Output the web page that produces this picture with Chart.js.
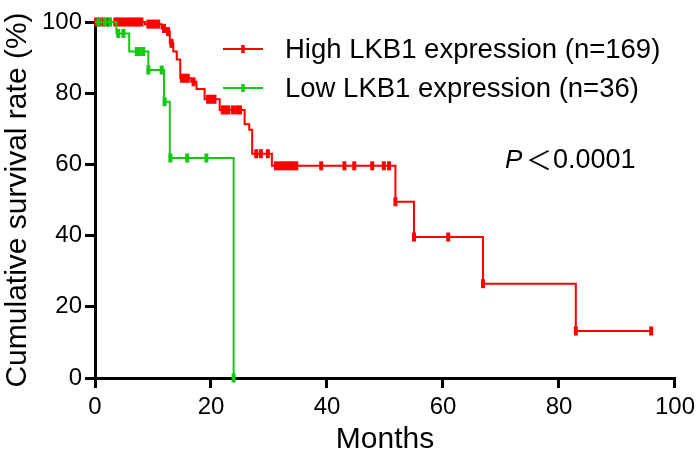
<!DOCTYPE html>
<html>
<head>
<meta charset="utf-8">
<script src="https://cdn.jsdelivr.net/npm/chart.js@4"></script>
<style>
  body { margin: 0; background: #fff; }
  canvas { display: block; }
</style>
</head>
<body>
<canvas id="km" width="700" height="458"></canvas>
<script>
// tick labels
const xTicks = [0, 20, 40, 60, 80, 100];
const yTicks = [0, 20, 40, 60, 80, 100];

// High LKB1 group: event times (months), survival after each event (%), censored times
const highLabel = 'High LKB1 expression (n=169)';
const highEventMonths   = [8.6, 11.5, 12.3, 12.9, 13.5, 14.1, 14.7, 16.6, 17.5, 18.9, 21.5, 25.8, 26.6, 27.1, 30.5, 51.8, 55.0, 66.9, 82.9];
const highEventSurvival = [99.4, 98.2, 97.3, 94.0, 91.7, 89.5, 84.2, 83.2, 81.2, 78.3, 75.3, 71.3, 69.7, 63.0, 59.6, 49.5, 39.6, 26.5, 13.2];
const highCensorMonths  = [0.2, 0.8, 1.5, 2.3, 3.5, 4.0, 4.5, 5.0, 5.5, 6.0, 6.5, 7.0, 7.5, 8.0,
                           9.2, 9.8, 10.3, 10.9, 11.9, 12.6, 13.2, 15.0, 15.5, 16.0, 17.0,
                           19.5, 20.1, 20.6, 22.0, 22.5, 23.0, 23.8, 24.5, 25.0,
                           27.8, 28.6, 29.8, 31.2, 31.8, 32.4, 33.0, 33.6, 34.1, 34.7,
                           39.0, 43.0, 44.7, 47.8, 49.8, 50.7, 51.8, 55.0, 60.9, 66.9, 82.9, 95.9];

// Low LKB1 group
const lowLabel = 'Low LKB1 expression (n=36)';
const lowEventMonths   = [3.7, 5.9, 9.2, 11.9, 12.9, 23.9];
const lowEventSurvival = [96.8, 91.7, 86.5, 77.6, 61.8, 0];
const lowCensorMonths  = [0.6, 1.7, 2.6, 4.0, 4.9, 7.2, 7.6, 8.3, 9.2, 11.5, 12.0, 13.0, 15.9, 19.2, 23.9];

const pText = '0.0001';

const RED = '#ff0000';
const GREEN = '#14c814';
const FONT = '"Liberation Sans", Arial, sans-serif';

function kmPoints(eventMonths, eventSurvival, censorMonths) {
  const pts = [{x: 0, y: 100, c: false}];
  eventMonths.forEach((m, i) => pts.push({x: m, y: eventSurvival[i], c: false}));
  censorMonths.forEach(m => {
    let s = 100;
    eventMonths.forEach((em, i) => { if (em <= m) s = eventSurvival[i]; });
    pts.push({x: m, y: s, c: true});
  });
  pts.sort((a, b) => a.x - b.x || a.c - b.c);
  return pts;
}

function kmDataset(label, color, data, order) {
  return {
    label: label,
    data: data,
    order: order,
    borderColor: color,
    borderWidth: 2,
    stepped: 'before',
    fill: false,
    clip: false,
    pointStyle: 'line',
    rotation: 90,
    pointRadius: ctx => (ctx.raw && ctx.raw.c) ? 4.5 : 0,
    pointHoverRadius: 0,
    pointBorderColor: color,
    pointBackgroundColor: color,
    pointBorderWidth: 4
  };
}

// legend with line+tick and the P value label
const kmText = {
  id: 'kmText',
  afterDraw(chart) {
    const ctx = chart.ctx;
    ctx.save();
    const rows = [[RED, highLabel, 49], [GREEN, lowLabel, 88]];
    rows.forEach(([color, label, y]) => {
      ctx.strokeStyle = color;
      ctx.lineWidth = 2;
      ctx.beginPath();
      ctx.moveTo(223, y); ctx.lineTo(263, y);
      ctx.stroke();
      ctx.lineWidth = 3.5;
      ctx.beginPath();
      ctx.moveTo(243, y - 4); ctx.lineTo(243, y + 4);
      ctx.stroke();
      ctx.fillStyle = '#000';
      ctx.font = '27.5px ' + FONT;
      ctx.textBaseline = 'middle';
      ctx.textAlign = 'left';
      ctx.fillText(label, 285, y + 1);
    });

    ctx.textBaseline = 'alphabetic';
    ctx.fillStyle = '#000';
    ctx.font = 'italic 26px ' + FONT;
    ctx.fillText('P', 505, 168);
    ctx.font = '26px "Noto Sans CJK SC"';
    ctx.fillText('＜', 526, 170);
    ctx.font = '27px ' + FONT;
    ctx.fillText(pText, 553, 168);
    ctx.restore();
  }
};

const axisCommon = {
  type: 'linear',
  min: 0,
  max: 100,
  border: { display: true, color: '#000', width: 3 },
  grid: { display: true, drawOnChartArea: false, drawTicks: true, tickLength: 10, color: '#000', lineWidth: 3 }
};

new Chart(document.getElementById('km').getContext('2d'), {
  type: 'line',
  data: {
    datasets: [
      kmDataset(highLabel, RED, kmPoints(highEventMonths, highEventSurvival, highCensorMonths), 1),
      kmDataset(lowLabel, GREEN, kmPoints(lowEventMonths, lowEventSurvival, lowCensorMonths), 0)
    ]
  },
  options: {
    responsive: false,
    animation: false,
    events: [],
    layout: { padding: { top: 22, right: 23, left: 0, bottom: 0 } },
    plugins: {
      legend: { display: false },
      tooltip: { enabled: false }
    },
    scales: {
      x: Object.assign({}, axisCommon, {
        afterBuildTicks: s => { s.ticks = xTicks.map(v => ({ value: v })); },
        afterFit: s => { s.height = 80; },
        ticks: { color: '#000', padding: 5, maxRotation: 0, font: { family: FONT, size: 24 } },
        title: { display: true, text: 'Months', color: '#000', padding: 0, font: { family: FONT, size: 30 } }
      }),
      y: Object.assign({}, axisCommon, {
        afterBuildTicks: s => { s.ticks = yTicks.map(v => ({ value: v })); },
        afterFit: s => { s.width = 95; },
        ticks: { color: '#000', padding: 3, font: { family: FONT, size: 24 } },
        title: { display: true, text: 'Cumulative survival rate (%)', color: '#000', padding: 0, font: { family: FONT, size: 30 } }
      })
    }
  },
  plugins: [kmText]
});
</script>
</body>
</html>
